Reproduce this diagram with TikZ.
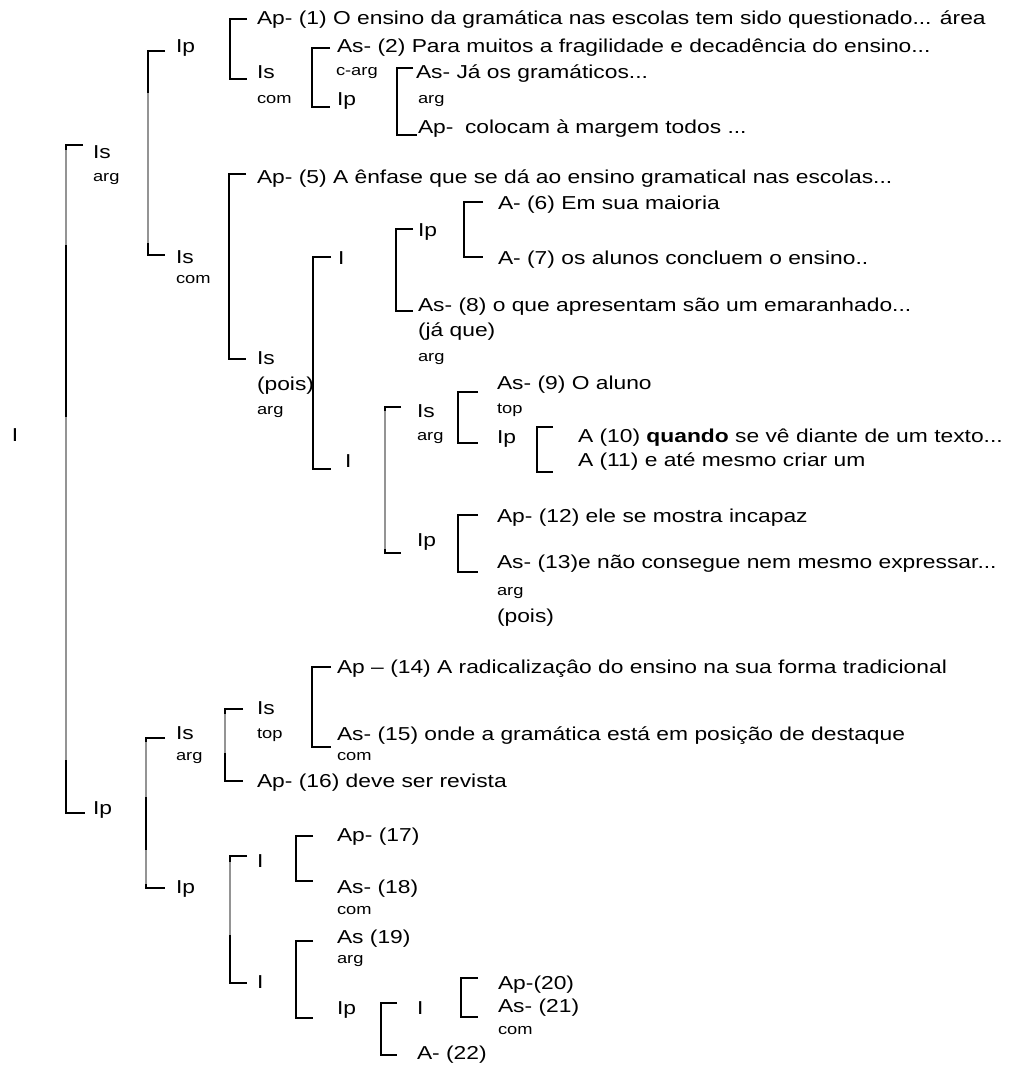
\documentclass[tikz,border=0pt]{standalone}
\usepackage{fontspec}
\setmainfont{Liberation Sans}[FakeStretch=1.22]
\newcommand\brk[7]{\draw[brk] ([shift={(-#3,#4)}]#1.west) -- ++(-#5,0) |- ([shift={(-#6,#7)}]#2.west);}
\begin{document}
\begin{tikzpicture}[x=1pt,y=-1pt,
  lbl/.style={anchor=west, inner sep=0pt, outer sep=0pt, font=\fontsize{18.7}{22}\selectfont, text height=13.4pt, text depth=0pt},
  sub/.style={anchor=west, inner sep=0pt, outer sep=0pt, font=\fontsize{15}{17}\selectfont, text height=7.8pt, text depth=0pt},
  brk/.style={draw=black, line width=1.2pt},
  faded/.style={draw=black!42, line width=1.2pt}]
\fill[white] (0,0) rectangle (1010,1065);
\useasboundingbox (0,0) rectangle (1010,1065);
% root
\node[lbl] (root) at (12,435) {I};
\node[lbl] (Is1) at (93,152) {Is};
\node[sub] (arg1) at (93,178) {arg};
\node[lbl] (Ip1) at (93,808) {Ip};
\brk{Is1}{Ip1}{10}{-7}{17}{8}{5}
% upper
\node[lbl] (Ip2) at (176,46) {Ip};
\node[lbl] (Is2) at (176,257) {Is};
\node[sub] (com2) at (176,280) {com};
\brk{Ip2}{Is2}{11}{5}{17}{11}{-2}
\node[lbl] (Ap1) at (257,18) {Ap- (1) O ensino da gramática nas escolas tem sido questionado... área};
\node[lbl] (Is3) at (257,72) {Is};
\node[sub] (com3) at (257,100) {com};
\brk{Ap1}{Is3}{10}{1}{17}{10}{7}
\node[lbl] (As2) at (337,46) {As- (2) Para muitos a fragilidade e decadência do ensino...};
\node[sub] (carg) at (336,72) {c-arg};
\node[lbl] (Ip3) at (337,99) {Ip};
\brk{As2}{Ip3}{7}{2}{18}{7}{8}
\node[lbl] (AsJa) at (416,72) {As- Já os gramáticos...};
\node[sub] (arg3) at (418,100) {arg};
\node[lbl] (ApCol) at (418,127) {Ap-\hspace{0.28em} colocam à margem todos ...};
\brk{AsJa}{ApCol}{3}{-4}{16}{1}{8}
% middle
\node[lbl] (Ap5) at (257,177) {Ap- (5) A ênfase que se dá ao ensino gramatical nas escolas...};
\node[lbl] (Is4) at (257,358) {Is};
\node[lbl] (pois1) at (257,384) {(pois)};
\node[sub] (arg4) at (257,411) {arg};
\brk{Ap5}{Is4}{11}{-3}{17}{11}{1}
\node[lbl] (I1) at (338,258) {I};
\node[lbl] (I2) at (345,461) {I};
\brk{I1}{I2}{7}{-1}{18}{14}{8}
\node[lbl] (Ip4) at (418,230) {Ip};
\node[lbl] (As8) at (418,305) {As- (8) o que apresentam são um emaranhado...};
\node[lbl] (jaque) at (418,330) {(já que)};
\node[sub] (arg5) at (418,358) {arg};
\brk{Ip4}{As8}{5}{-1}{17}{5}{6}
\node[lbl] (A6) at (498,203) {A- (6) Em sua maioria};
\node[lbl] (A7) at (498,258) {A- (7) os alunos concluem o ensino..};
\brk{A6}{A7}{15}{-1}{19}{15}{-1}
\node[lbl] (Is5) at (417,411) {Is};
\node[sub] (arg6) at (417,437) {arg};
\node[lbl] (Ip5) at (417,540) {Ip};
\brk{Is5}{Ip5}{16}{-4}{16}{16}{13}
\node[lbl] (As9) at (497,383) {As- (9) O aluno};
\node[sub] (top1) at (497,410) {top};
\node[lbl] (Ip6) at (497,437) {Ip};
\brk{As9}{Ip6}{19}{9}{20}{19}{6}
\node[lbl] (A10) at (578,436) {A (10) \textbf{quando} se vê diante de um texto...};
\node[lbl] (A11) at (578,460) {A (11) e até mesmo criar um};
\brk{A10}{A11}{25}{-9}{16}{25}{12}
\node[lbl] (Ap12) at (497,516) {Ap- (12) ele se mostra incapaz};
\node[lbl] (As13) at (497,562) {As- (13)e não consegue nem mesmo expressar...};
\node[sub] (arg7) at (497,592) {arg};
\node[lbl] (pois2) at (497,616) {(pois)};
\brk{Ap12}{As13}{19}{-1}{20}{19}{10}
% lower
\node[lbl] (Is6) at (176,733) {Is};
\node[sub] (arg8) at (176,757) {arg};
\node[lbl] (Ip7) at (176,887) {Ip};
\brk{Is6}{Ip7}{11}{5}{19}{11}{1}
\node[lbl] (Is7) at (257,708) {Is};
\node[sub] (top2) at (257,735) {top};
\node[lbl] (Ap16) at (257,781) {Ap- (16) deve ser revista};
\brk{Is7}{Ap16}{14}{1}{18}{14}{0}
\node[lbl] (Ap14) at (337,667) {Ap – (14) A radicalizaçâo do ensino na sua forma tradicional};
\node[lbl] (As15) at (337,734) {As- (15) onde a gramática está em posição de destaque};
\node[sub] (com4) at (337,757) {com};
\brk{Ap14}{As15}{6}{0}{19}{6}{13}
\node[lbl] (I3) at (257,861) {I};
\node[lbl] (I4) at (257,982) {I};
\brk{I3}{I4}{10}{-5}{17}{10}{1}
\node[lbl] (Ap17) at (337,835) {Ap- (17)};
\node[lbl] (As18) at (337,887) {As- (18)};
\node[sub] (com5) at (337,911) {com};
\brk{Ap17}{As18}{24}{1}{17}{24}{-6}
\node[lbl] (As19) at (337,937) {As (19)};
\node[sub] (arg9) at (337,960) {arg};
\node[lbl] (Ip8) at (337,1008) {Ip};
\brk{As19}{Ip8}{24}{4}{17}{24}{10}
\node[lbl] (I5) at (417,1008) {I};
\node[lbl] (A22) at (417,1053) {A- (22)};
\brk{I5}{A22}{20}{-5}{16}{20}{2}
\node[lbl] (Ap20) at (498,983) {Ap-(20)};
\node[lbl] (As21) at (498,1006) {As- (21)};
\node[sub] (com6) at (498,1031) {com};
\brk{Ap20}{As21}{20}{-5}{17}{20}{11}
% faded stretches of the long rules, as in the scan
\draw[faded] (66,150) -- (66,245);
\draw[faded] (66,417) -- (66,760);
\draw[faded] (148,93) -- (148,243);
\draw[faded] (385,411) -- (385,549);
\draw[faded] (225,714) -- (225,753);
\draw[faded] (146,742) -- (146,797);
\draw[faded] (146,850) -- (146,884);
\draw[faded] (230,862) -- (230,935);
\end{tikzpicture}
\end{document}
